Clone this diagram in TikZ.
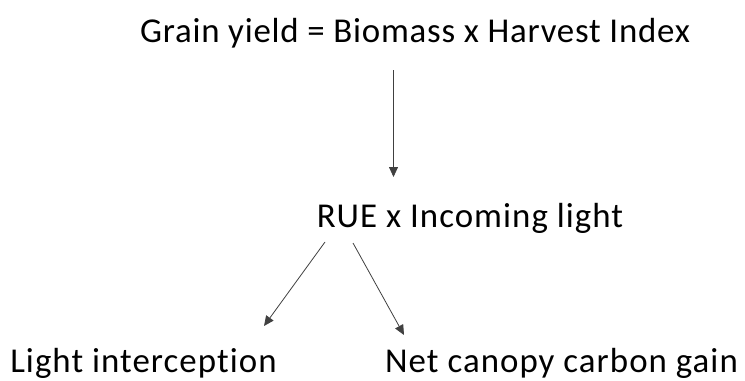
\documentclass[tikz,border=0pt]{standalone}
\usepackage{fontspec}
\setmainfont[Ligatures=NoCommon,LetterSpace=3]{Carlito}
\usetikzlibrary{arrows.meta}
\begin{document}
\begin{tikzpicture}[x=1bp,y=1bp,
  label/.style={anchor=base,inner sep=0pt,font=\fontsize{35}{40}\selectfont},
  link/.style={draw=black!75,line width=0.8bp,-{Triangle[length=10bp,width=9bp]}}]
\useasboundingbox (0,0) rectangle (745,380);
\node[label] (yield) at (415,338) {\addfontfeature{LetterSpace=2.2}Grain yield = Biomass x Harvest Index};
\node[label] (rue) at (470,153) {RUE x Incoming light};
\node[label] (li) at (143.5,7.5) {Light interception};
\node[label] (ncg) at (561.5,7.5) {Net canopy carbon gain};
% connector end points
\coordinate (y0) at (393.5,310);
\coordinate (y1) at (393.5,203);
\coordinate (r0) at (325,138);
\coordinate (r1) at (264,54);
\coordinate (s0) at (353,137);
\coordinate (s1) at (404,45);
\draw[link] (y0) -- (y1);
\draw[link] (r0) -- (r1);
\draw[link] (s0) -- (s1);
\end{tikzpicture}
\end{document}
